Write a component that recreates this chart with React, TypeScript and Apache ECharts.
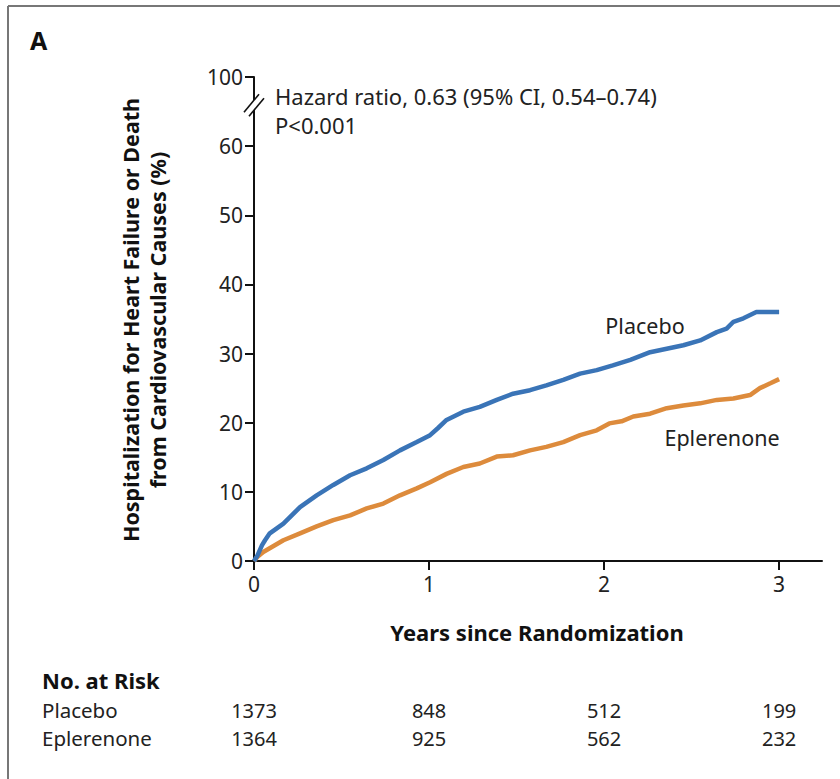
import React, { useEffect, useRef } from "react";
import * as echarts from "echarts";

// Years since randomization (x) and cumulative incidence (%) (y)
const placeboT = [0, 0.02, 0.046, 0.063, 0.09, 0.168, 0.263, 0.358, 0.453, 0.549, 0.644, 0.739, 0.834, 0.93, 1.006, 1.05, 1.1, 1.196, 1.29, 1.387, 1.48, 1.577, 1.67, 1.767, 1.863, 1.958, 2.05, 2.15, 2.263, 2.358, 2.453, 2.549, 2.644, 2.7, 2.739, 2.796, 2.87, 3.0];
const placeboV = [0, 0.8, 2.3, 3.0, 4.0, 5.4, 7.8, 9.5, 11.0, 12.4, 13.4, 14.6, 16.0, 17.2, 18.2, 19.2, 20.4, 21.6, 22.3, 23.3, 24.2, 24.7, 25.4, 26.2, 27.1, 27.6, 28.3, 29.1, 30.2, 30.7, 31.2, 31.9, 33.1, 33.6, 34.6, 35.1, 36.0, 36.0];
const eplerT = [0, 0.02, 0.053, 0.168, 0.263, 0.358, 0.453, 0.549, 0.644, 0.739, 0.834, 0.93, 1.006, 1.1, 1.196, 1.29, 1.387, 1.48, 1.577, 1.67, 1.767, 1.863, 1.958, 2.03, 2.1, 2.167, 2.263, 2.358, 2.453, 2.549, 2.644, 2.739, 2.834, 2.89, 2.95, 3.0];
const eplerV = [0, 0.6, 1.3, 3.0, 4.0, 5.0, 5.9, 6.6, 7.6, 8.3, 9.5, 10.5, 11.4, 12.6, 13.6, 14.1, 15.1, 15.3, 16.0, 16.5, 17.2, 18.2, 18.9, 19.9, 20.2, 20.9, 21.3, 22.1, 22.5, 22.8, 23.3, 23.5, 24.0, 25.0, 25.7, 26.3];

const yTicks = [0, 10, 20, 30, 40, 50, 60, 70];
const yTickLabels = ["0", "10", "20", "30", "40", "50", "60", "100"];
const xTicks = [0, 1, 2, 3];

const riskGroups = ["Placebo", "Eplerenone"];
const riskPlacebo = [1373, 848, 512, 199];
const riskEpler = [1364, 925, 562, 232];

const FONT = "'Noto Sans', 'Open Sans', sans-serif";
const BLUE = "#3A74B7";
const ORANGE = "#DD8B3C";

export default function App() {
  const ref = useRef<HTMLDivElement>(null);
  useEffect(() => {
    if (!ref.current) return;
    const chart = echarts.init(ref.current, null, { renderer: "svg" });
    const toPairs = (t: number[], v: number[]) => t.map((x, i) => [x, v[i]]);
    const option: any = {
      animation: false,
      backgroundColor: "#fff",
      grid: { left: 254, top: 77, width: 568, height: 484, containLabel: false },
      xAxis: {
        type: "value",
        min: 0,
        max: 3.245,
        interval: 1,
        splitLine: { show: false },
        axisLine: { show: true, lineStyle: { color: "#111", width: 2 } },
        axisTick: { show: true, length: 9, lineStyle: { color: "#111", width: 2 }, customValues: xTicks },
        axisLabel: { color: "#222", fontSize: 21, fontFamily: FONT, margin: 12, customValues: xTicks, formatter: (v: number) => String(v) },
      },
      yAxis: {
        type: "value",
        min: 0,
        max: 70,
        interval: 10,
        splitLine: { show: false },
        axisLine: { show: true, lineStyle: { color: "#111", width: 2 } },
        axisTick: { show: true, length: 9, lineStyle: { color: "#111", width: 2 }, customValues: yTicks },
        axisLabel: {
          color: "#222", fontSize: 21, fontFamily: FONT, margin: 11, customValues: yTicks,
          formatter: (v: number) => yTickLabels[yTicks.indexOf(v)] ?? "",
        },
      },
      series: [
        {
          type: "line", name: "Placebo", data: toPairs(placeboT, placeboV), showSymbol: false,
          lineStyle: { color: BLUE, width: 4.5 }, itemStyle: { color: BLUE }, z: 3,
        },
        {
          type: "line", name: "Eplerenone", data: toPairs(eplerT, eplerV), showSymbol: false,
          lineStyle: { color: ORANGE, width: 4.5 }, itemStyle: { color: ORANGE }, z: 2,
        },
      ],
    };
    chart.setOption(option);

    const px = (t: number) => chart.convertToPixel({ xAxisIndex: 0 }, t) as number;
    const py = (v: number) => chart.convertToPixel({ yAxisIndex: 0 }, v) as number;
    const x0 = px(0);
    const textStyle = (extra: any) => ({ fill: "#222", fontFamily: FONT, ...extra });
    const riskTexts: any[] = [];
    riskPlacebo.forEach((n, i) => {
      riskTexts.push({ type: "text", x: px(xTicks[i]), y: 710, style: textStyle({ text: String(n), fontSize: 20, textAlign: "center", textVerticalAlign: "middle" }) });
    });
    riskEpler.forEach((n, i) => {
      riskTexts.push({ type: "text", x: px(xTicks[i]), y: 738, style: textStyle({ text: String(n), fontSize: 20, textAlign: "center", textVerticalAlign: "middle" }) });
    });
    const breakY = py(66.2);
    chart.setOption({
      graphic: [
        // frame
        { type: "line", shape: { x1: 8, y1: 6, x2: 840, y2: 6 }, style: { stroke: "#777", lineWidth: 2 } },
        { type: "line", shape: { x1: 8, y1: 6, x2: 8, y2: 779 }, style: { stroke: "#777", lineWidth: 2 } },
        { type: "text", x: 30, y: 40, style: textStyle({ text: "A", fontSize: 25, fontWeight: "bold", fill: "#111", textVerticalAlign: "middle" }) },
        // axis break
        { type: "polygon", z: 100, shape: { points: [[x0 - 10, breakY + 9], [x0 - 5, breakY + 13], [x0 + 10, breakY - 5], [x0 + 5, breakY - 9]] }, style: { fill: "#fff" } },
        { type: "line", z: 101, shape: { x1: x0 - 10, y1: breakY + 9, x2: x0 + 5, y2: breakY - 9 }, style: { stroke: "#111", lineWidth: 1.6 } },
        { type: "line", z: 101, shape: { x1: x0 - 5, y1: breakY + 13, x2: x0 + 10, y2: breakY - 5 }, style: { stroke: "#111", lineWidth: 1.6 } },
        // annotations
        { type: "text", x: 275, y: 96, style: textStyle({ text: "Hazard ratio, 0.63 (95% CI, 0.54\u20130.74)", fontSize: 22, textVerticalAlign: "middle" }) },
        { type: "text", x: 275, y: 125, style: textStyle({ text: "P<0.001", fontSize: 22, textVerticalAlign: "middle" }) },
        { type: "text", x: 645, y: 325, style: textStyle({ text: "Placebo", fontSize: 21.5, textAlign: "center", textVerticalAlign: "middle" }) },
        { type: "text", x: 722, y: 437, style: textStyle({ text: "Eplerenone", fontSize: 21.5, textAlign: "center", textVerticalAlign: "middle" }) },
        // axis titles
        { type: "text", x: 130, y: 320, rotation: Math.PI / 2, style: textStyle({ text: "Hospitalization for Heart Failure or Death", fontSize: 21.5, fontWeight: "bold", fill: "#111", textAlign: "center", textVerticalAlign: "middle" }) },
        { type: "text", x: 157, y: 320, rotation: Math.PI / 2, style: textStyle({ text: "from Cardiovascular Causes (%)", fontSize: 21.5, fontWeight: "bold", fill: "#111", textAlign: "center", textVerticalAlign: "middle" }) },
        { type: "text", x: 537, y: 632, style: textStyle({ text: "Years since Randomization", fontSize: 22, fontWeight: "bold", fill: "#111", textAlign: "center", textVerticalAlign: "middle" }) },
        // risk table
        { type: "text", x: 42, y: 680, style: textStyle({ text: "No. at Risk", fontSize: 22, fontWeight: "bold", fill: "#111", textVerticalAlign: "middle" }) },
        { type: "text", x: 42, y: 710, style: textStyle({ text: riskGroups[0], fontSize: 20.5, textVerticalAlign: "middle" }) },
        { type: "text", x: 42, y: 738, style: textStyle({ text: riskGroups[1], fontSize: 20.5, textVerticalAlign: "middle" }) },
        ...riskTexts,
      ],
    });
    return () => chart.dispose();
  }, []);
  return <div ref={ref} style={{ position: "absolute", left: 0, top: 0, width: 840, height: 779 }} />;
}
